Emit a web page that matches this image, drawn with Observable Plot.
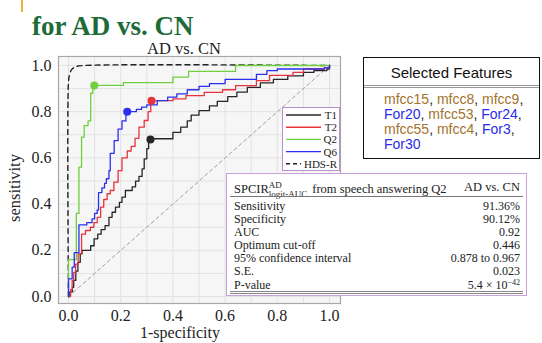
<!DOCTYPE html>
<html><head><meta charset="utf-8">
<script src="https://cdn.jsdelivr.net/npm/d3@7"></script>
<script src="https://cdn.jsdelivr.net/npm/@observablehq/plot@0.6"></script>
<style>
body{margin:0;background:#fff}
#wrap{position:relative;width:542px;height:343px;overflow:hidden;background:#fff}
.abs{position:absolute;white-space:nowrap;line-height:1}
.serif{font-family:"Liberation Serif","Times New Roman",serif}
.sans{font-family:"Liberation Sans",Arial,sans-serif}
#tbl{position:absolute;left:226px;top:173px;width:301px;height:123px;border:1px solid #c9a2d9;background:#fff;box-sizing:border-box}
#tbl .row{position:absolute;left:7px;right:6px;font-size:12px;line-height:1;font-family:"Liberation Serif",serif;color:#222}
#tbl .row span.r{position:absolute;right:0}
#feat{position:absolute;left:363px;top:57px;width:177px;height:102px;border:1.5px solid #111;box-sizing:border-box;background:#fff}
.m{color:#a2742c}.f{color:#2b2bea}
</style></head>
<body><div id="wrap"></div>
<script>
// ---- data ----
const gridTicks = [0,0.1,0.2,0.3,0.4,0.5,0.6,0.7,0.8,0.9,1.0];
const axisTicks = [0,0.2,0.4,0.6,0.8,1.0];
// ROC curves: [1-specificity, sensitivity], step-after
const T1 = [[0,0],[0.005,0.02],[0.015,0.04],[0.02,0.07],[0.028,0.11],[0.036,0.148],[0.045,0.185],[0.052,0.20],[0.085,0.22],[0.098,0.25],[0.112,0.27],[0.125,0.29],[0.14,0.307],[0.155,0.343],[0.167,0.365],[0.18,0.387],[0.195,0.408],[0.205,0.43],[0.218,0.459],[0.244,0.475],[0.257,0.50],[0.27,0.52],[0.282,0.553],[0.29,0.596],[0.30,0.64],[0.307,0.683],[0.40,0.711],[0.43,0.733],[0.455,0.76],[0.47,0.785],[0.50,0.805],[0.54,0.825],[0.57,0.845],[0.61,0.865],[0.645,0.885],[0.685,0.905],[0.735,0.925],[0.785,0.94],[0.84,0.955],[0.90,0.97],[0.94,0.978],[0.99,0.985],[1,1]];
const T2 = [[0,0],[0.008,0.03],[0.014,0.07],[0.02,0.105],[0.027,0.14],[0.037,0.185],[0.05,0.27],[0.065,0.286],[0.084,0.30],[0.097,0.32],[0.11,0.343],[0.123,0.387],[0.135,0.42],[0.148,0.445],[0.16,0.459],[0.174,0.495],[0.19,0.545],[0.205,0.60],[0.225,0.63],[0.24,0.65],[0.255,0.685],[0.27,0.733],[0.29,0.762],[0.305,0.80],[0.315,0.848],[0.40,0.856],[0.45,0.87],[0.52,0.884],[0.59,0.895],[0.64,0.913],[0.72,0.935],[0.77,0.957],[0.86,0.97],[0.90,0.985],[0.98,0.99],[1,1]];
const Q2 = [[0,0],[0,0.16],[0.03,0.36],[0.04,0.56],[0.05,0.69],[0.06,0.74],[0.075,0.76],[0.085,0.88],[0.093,0.914],[0.21,0.926],[0.40,0.95],[0.46,0.975],[0.64,1.0],[1,1]];
const Q6 = [[0,0],[0,0.077],[0.014,0.127],[0.022,0.19],[0.04,0.31],[0.07,0.32],[0.09,0.336],[0.10,0.36],[0.11,0.375],[0.115,0.45],[0.128,0.47],[0.138,0.49],[0.145,0.51],[0.155,0.545],[0.16,0.62],[0.175,0.675],[0.19,0.725],[0.205,0.76],[0.22,0.80],[0.26,0.81],[0.28,0.82],[0.30,0.83],[0.34,0.848],[0.38,0.863],[0.415,0.877],[0.455,0.895],[0.50,0.91],[0.54,0.922],[0.60,0.94],[0.72,0.962],[0.76,0.978],[0.80,0.985],[0.98,0.99],[1,1]];
const HDSR = [[0,0],[0,0.93],[0.004,0.96],[0.012,0.982],[0.028,0.995],[0.06,1],[1,1]];
const chance = [[0,0],[1,1]];
// optimum cut-off points
const optPoints = [
  {name:"T1", x:0.314, y:0.68},
  {name:"T2", x:0.318, y:0.848},
  {name:"Q2", x:0.0988, y:0.9136},
  {name:"Q6", x:0.225, y:0.80}
];
const seriesNames = ["T1","T2","Q2","Q6","HDS-R"];
const seriesColors = {"T1":"#262626","T2":"#e8323c","Q2":"#6fcf3c","Q6":"#2a2ff0","HDS-R":"#222"};
const tableHead = ["from speech answering Q2","AD vs. CN"];
const tableRows = [["Sensitivity","91.36%"],["Specificity","90.12%"],["AUC","0.92"],["Optimum cut-off","0.446"],["95% confidence interval","0.878 to 0.967"],["S.E.","0.023"]];
const featLines = [[["mfcc15","m"],["mfcc8","m"],["mfcc9","m"]],[["For20","f"],["mfcc53","m"],["For24","f"]],[["mfcc55","m"],["mfcc4","m"],["For3","f"]],[["For30","f"]]];

const wrap = document.getElementById("wrap");
const fx = d=>d[0], fy = d=>d[1];
const plot = Plot.plot({
  width: 360, height: 343,
  marginLeft: 58, marginRight: 20, marginTop: 56, marginBottom: 40,
  x: {domain:[-0.0383,1.042]},
  y: {domain:[-0.030,1.039]},
  style: {fontFamily:"Liberation Serif, serif", fontSize:"16px", color:"#222", background:"transparent"},
  marks: [
    Plot.frame({fill:"#f6f6f6"}),
    Plot.gridX(gridTicks,{stroke:"#e2e2e2", strokeOpacity:1, strokeWidth:1}),
    Plot.gridY(gridTicks,{stroke:"#e2e2e2", strokeOpacity:1, strokeWidth:1}),
    Plot.line(chance,{x:fx,y:fy,stroke:"#a0a0a0",strokeWidth:1,strokeDasharray:"3.5,3"}),
    Plot.line(HDSR,{x:fx,y:fy,stroke:seriesColors["HDS-R"],strokeWidth:1.4,strokeDasharray:"5,4",curve:"catmull-rom"}),
    Plot.line(T1,{x:fx,y:fy,stroke:seriesColors.T1,strokeWidth:1.3,curve:"step-after"}),
    Plot.line(T2,{x:fx,y:fy,stroke:seriesColors.T2,strokeWidth:1.3,curve:"step-after"}),
    Plot.line(Q2,{x:fx,y:fy,stroke:seriesColors.Q2,strokeWidth:1.3,curve:"step-after"}),
    Plot.line(Q6,{x:fx,y:fy,stroke:seriesColors.Q6,strokeWidth:1.3,curve:"step-after"}),
    Plot.dot(optPoints,{x:"x",y:"y",r:4,fill:d=>seriesColors[d.name],stroke:"none"}),
    Plot.frame({stroke:"#a8a8a8",strokeWidth:1.2}),
    Plot.axisX(axisTicks,{tickSize:0,tickPadding:6,tickFormat:d3.format(".1f"),label:null}),
    Plot.axisY(axisTicks,{tickSize:0,tickPadding:7,tickFormat:d3.format(".1f"),label:null})
  ]
});
plot.style.position="absolute"; plot.style.left="0px"; plot.style.top="0px";
wrap.appendChild(plot);

function addDiv(html, css, cls){const d=document.createElement("div");d.className="abs "+(cls||"");d.innerHTML=html;Object.assign(d.style,css);wrap.appendChild(d);return d;}
// decorations
addDiv("",{left:"21px",top:"0px",width:"2px",height:"12px",background:"#e6b53a"});
addDiv("for AD vs. CN",{left:"32px",top:"13px",fontSize:"27px",fontWeight:"bold",color:"#1d6b38"},"serif");
addDiv("AD vs. CN",{left:"184px",top:"40.5px",fontSize:"16.5px",color:"#222",transform:"translateX(-50%)"},"serif");
addDiv("1-specificity",{left:"180px",top:"325px",fontSize:"16px",color:"#222",transform:"translateX(-50%)"},"serif");
addDiv("sensitivity",{left:"15px",top:"188px",fontSize:"16.5px",color:"#222",transform:"translate(-50%,-50%) rotate(-90deg)"},"serif");

// legend
const leg = d3.select(wrap).append("svg").attr("width",58).attr("height",64)
  .style("position","absolute").style("left","282px").style("top","107px");
leg.append("rect").attr("x",0.5).attr("y",0.5).attr("width",57).attr("height",63).attr("fill","#fff").attr("stroke","#b98ccc");
seriesNames.forEach((n,i)=>{
  const y = 8 + i*12.2;
  leg.append("text").attr("x",55).attr("y",y+4).attr("text-anchor","end")
    .attr("font-family","Liberation Serif, serif").attr("font-size",11).attr("fill","#222").text(n);
  const x2 = n==="HDS-R" ? 19 : 39;
  leg.append("line").attr("x1",4).attr("x2",x2).attr("y1",y).attr("y2",y)
    .attr("stroke",seriesColors[n]).attr("stroke-width",1.4)
    .attr("stroke-dasharray",n==="HDS-R"?"4,3":null);
});

// stats table
const tbl = document.createElement("div"); tbl.id="tbl"; wrap.appendChild(tbl);
const hd = document.createElement("div"); hd.className="row"; hd.style.top="7px"; hd.style.fontSize="12.5px";
hd.innerHTML = 'SPCIR<span style="display:inline-block;vertical-align:-4px;font-size:9px;margin-right:5px"><span style="display:block;line-height:9px">AD</span><span style="display:block;line-height:9px">logit-AUC</span></span>'+tableHead[0]+'<span class="r">'+tableHead[1]+'</span>';
tbl.appendChild(hd);
const rule = document.createElement("div"); Object.assign(rule.style,{position:"absolute",left:"3px",right:"3px",top:"22px",height:"0",borderTop:"1px solid #777"}); tbl.appendChild(rule);
tableRows.forEach((r,i)=>{
  const d=document.createElement("div"); d.className="row"; d.style.top=(26+i*13)+"px";
  d.innerHTML = r[0]+'<span class="r">'+r[1]+'</span>'; tbl.appendChild(d);
});
const pv=document.createElement("div"); pv.className="row"; pv.style.top=(27+6*13)+"px";
pv.innerHTML='P-value<span class="r">5.4 × 10<sup style="font-size:8px;vertical-align:4px;line-height:0">−42</sup></span>'; tbl.appendChild(pv);
const rule2 = document.createElement("div"); Object.assign(rule2.style,{position:"absolute",left:"3px",right:"3px",top:"117px",height:"1px",borderTop:"1px solid #888",borderBottom:"1px solid #888"}); tbl.appendChild(rule2);

// selected features
const feat=document.createElement("div"); feat.id="feat"; wrap.appendChild(feat);
const fh=document.createElement("div"); fh.className="abs sans"; Object.assign(fh.style,{left:"0",right:"0",top:"7px",textAlign:"center",fontSize:"15px",color:"#111"}); fh.textContent="Selected Features"; feat.appendChild(fh);
const fr=document.createElement("div"); Object.assign(fr.style,{position:"absolute",left:"0",right:"0",top:"27px",height:"1px",borderTop:"1px solid #999",borderBottom:"1px solid #999"}); feat.appendChild(fr);
featLines.forEach((line,i)=>{
  const d=document.createElement("div"); d.className="abs sans"; Object.assign(d.style,{left:"20px",top:(33.5+i*15)+"px",fontSize:"14px"});
  d.innerHTML=line.map((w,j)=>'<span class="'+w[1]+'">'+w[0]+'</span>'+(j<line.length-1||i<featLines.length-1?'<span style="color:#222">,</span>':'')).join(" ");
  feat.appendChild(d);
});
</script></body></html>
